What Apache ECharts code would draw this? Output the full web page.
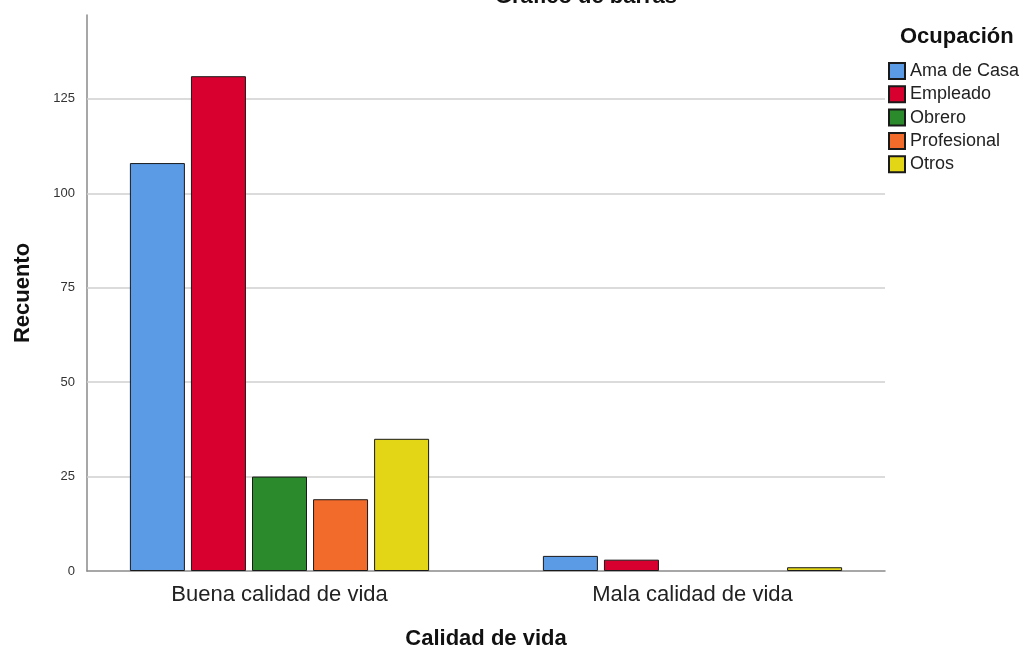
<!DOCTYPE html>
<html><head><meta charset="utf-8">
<script src="https://cdn.jsdelivr.net/npm/echarts@6/dist/echarts.min.js"></script>
<style>html,body{margin:0;padding:0;background:#fff}#c{width:1024px;height:648px}</style>
</head><body><div id="c"></div>
<script>
const categories = ['Buena calidad de vida', 'Mala calidad de vida'];
const seriesNames = ['Ama de Casa', 'Empleado', 'Obrero', 'Profesional', 'Otros'];
const amaDeCasa = [108, 4];
const empleado = [131, 3];
const obrero = [25, 0];
const profesional = [19, 0];
const otros = [35, 1];
const yTicks = [25, 50, 75, 100, 125];
const colors = ['#5b9be6', '#d8002e', '#2b8a2b', '#f26b2a', '#e3d616'];
const values = [amaDeCasa, empleado, obrero, profesional, otros];

const YMAX = 147.2;
const chart = echarts.init(document.getElementById('c'));
const font = 'Arial, "Liberation Sans", sans-serif';

const barSeries = seriesNames.map((n, i) => ({
  name: n, type: 'bar', xAxisIndex: 1, yAxisIndex: 1,
  data: values[i].map(v => (v === 0 ? '-' : v)), barWidth: 55, barGap: '11%', z: 3,
  itemStyle: { color: colors[i], borderColor: '#1a1a1a', borderWidth: 1 }
}));

chart.setOption({
  animation: false,
  title: [
    { text: 'Gráfico de barras', left: 581, top: -19, textAlign: 'center',
      textStyle: { fontFamily: font, fontSize: 22, fontWeight: 'bold', color: '#111' } },
    { text: 'Ocupación', left: 895, top: 21,
      textStyle: { fontFamily: font, fontSize: 22, fontWeight: 'bold', color: '#111' } }
  ],
  legend: {
    data: seriesNames, orient: 'vertical', left: 888, top: 62, padding: 0,
    itemWidth: 16, itemHeight: 16, itemGap: 5.3, icon: 'rect',
    textStyle: { fontFamily: font, fontSize: 18, lineHeight: 18, color: '#222' }
  },
  grid: [
    { left: 87, right: 139, top: 15, bottom: 77, outerBoundsMode: 'none', containLabel: false },
    { left: 73, right: 125, top: 15, bottom: 77, outerBoundsMode: 'none', containLabel: false }
  ],
  xAxis: [
    { type: 'category', gridIndex: 0, data: [''],
      axisLine: { lineStyle: { color: '#8a8a8a', width: 1.5 } }, axisTick: { show: false }, axisLabel: { show: false },
      name: 'Calidad de vida', nameLocation: 'middle', nameGap: 57,
      nameTextStyle: { fontFamily: font, fontSize: 22, fontWeight: 'bold', color: '#111' } },
    { type: 'category', gridIndex: 1, data: categories,
      axisLine: { show: false }, axisTick: { show: false },
      axisLabel: { margin: 13, fontFamily: font, fontSize: 22, color: '#222' } }
  ],
  yAxis: [
    { type: 'value', gridIndex: 0, min: 0, max: YMAX, interval: 25,
      axisLine: { show: true, lineStyle: { color: '#8a8a8a', width: 1.5 } }, axisTick: { show: false },
      splitLine: { show: false },
      axisLabel: { showMaxLabel: false, margin: 12, fontFamily: font, fontSize: 13, color: '#333',
        formatter: v => (v > 125 ? '' : v) },
      name: 'Recuento', nameLocation: 'middle', nameGap: 53,
      nameTextStyle: { fontFamily: font, fontSize: 22, fontWeight: 'bold', color: '#111' } },
    { type: 'value', gridIndex: 1, min: 0, max: YMAX, show: false, splitLine: { show: false } }
  ],
  series: [
    { name: '_grid', type: 'line', xAxisIndex: 0, yAxisIndex: 0, data: [null], z: 1,
      silent: true, showSymbol: false,
      markLine: { silent: true, symbol: 'none', z: 1, label: { show: false },
        lineStyle: { color: '#cfcfcf', type: 'solid', width: 1.5 },
        data: yTicks.map(t => ({ yAxis: t })) } }
  ].concat(barSeries)
});
</script></body></html>
